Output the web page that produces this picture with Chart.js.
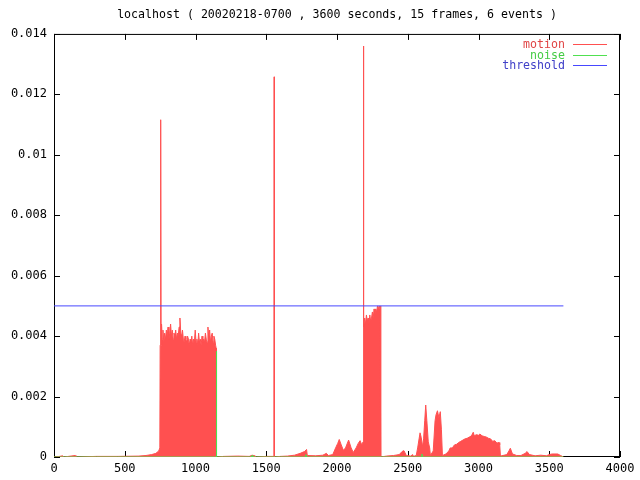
<!DOCTYPE html>
<html>
<head>
<meta charset="utf-8">
<script src="https://cdn.jsdelivr.net/npm/chart.js@4/dist/chart.umd.min.js"></script>
<style>
  body { margin: 0; background: #fff; }
  canvas { display: block; }
</style>
</head>
<body>
<canvas id="graficoMovimiento" width="640" height="480"></canvas>
<script>
// segundos y valores
const motionSec = [0, 40, 60, 70, 150, 155, 300, 450, 600, 650, 690, 720, 740, 748,
  750, 753, 755, 757, 760, 765, 770, 776, 782, 788, 794, 800, 806, 812, 818, 824, 830, 836, 842, 848,
  854, 860, 866, 872, 878, 884, 890, 896, 902, 908, 914, 920, 926, 932, 938, 944, 950, 956, 962, 968,
  974, 980, 986, 992, 998, 1004, 1010, 1016, 1022, 1028, 1034, 1040, 1046, 1052, 1058, 1064, 1070,
  1076, 1082, 1088, 1094, 1100, 1106, 1112, 1118, 1124, 1130, 1136, 1142, 1146, 1148,
  1200, 1300, 1380, 1400, 1420, 1430, 1500, 1550, 1554, 1556, 1558, 1600, 1650, 1700, 1740, 1770,
  1785, 1790, 1850, 1900, 1925, 1940, 1970, 1990, 2005, 2016, 2030, 2045, 2060, 2082, 2100, 2115,
  2135, 2150, 2163, 2175, 2184,
  2186, 2188, 2190, 2196, 2202, 2208, 2214, 2220, 2226, 2232, 2238, 2244, 2250, 2256, 2262, 2268,
  2274, 2280, 2286, 2292, 2298, 2304, 2308, 2310,
  2350, 2400, 2440, 2460, 2473, 2490, 2520, 2535, 2540, 2560, 2570, 2580, 2587, 2595, 2605, 2612,
  2620, 2627, 2635, 2645, 2655, 2660, 2680, 2693, 2700, 2710, 2720, 2730, 2738, 2745, 2770, 2790,
  2800, 2815, 2830, 2845, 2860, 2875, 2890, 2905, 2920, 2935, 2950, 2963, 2970, 2985, 3000, 3010,
  3025, 3040, 3055, 3070, 3085, 3100, 3115, 3130, 3145, 3150, 3155, 3200, 3215, 3225, 3240, 3270,
  3300, 3330, 3343, 3360, 3400, 3440, 3480, 3500, 3520, 3560, 3580, 3600];
const motionVal = [0, 0.00002, 0.00004, 0, 0.00005, 0, 0.00002, 0.00002, 0.00003, 0.00005, 0.00008, 0.00012, 0.0002, 0.0003,
  0.0037, 0.0045, 0.01116, 0.0037, 0.0044, 0.0039, 0.0042, 0.0038, 0.0041, 0.0039, 0.0042, 0.0040, 0.0043, 0.0039, 0.0041, 0.0044, 0.0040, 0.0042, 0.0039, 0.0041,
  0.0040, 0.0042, 0.0039, 0.0041, 0.0040, 0.0043, 0.0046, 0.0041, 0.0040, 0.0042, 0.0039, 0.0038, 0.0040, 0.0039, 0.0038, 0.0040, 0.0039, 0.0037, 0.0039, 0.0038,
  0.0040, 0.0037, 0.0039, 0.0038, 0.0042, 0.0038, 0.0039, 0.0037, 0.0041, 0.0038, 0.0039, 0.0037, 0.0040, 0.0038, 0.0039, 0.0038, 0.0041,
  0.0039, 0.0038, 0.0043, 0.0039, 0.0042, 0.0038, 0.0040, 0.0041, 0.0038, 0.0040, 0.0039, 0.0037, 0.0036, 0,
  0.00002, 0.00003, 0.00002, 0.00006, 0.00004, 0, 0.00002, 0.00002, 0, 0.01258, 0, 0.00002, 0.00003, 0.00006, 0.00012, 0.00018,
  0.00025, 0.00005, 0.00004, 0.00006, 0.00012, 0.00005, 0.00008, 0.0003, 0.00045, 0.00058, 0.0004, 0.00022, 0.0003, 0.00056, 0.0003, 0.00015,
  0.0003, 0.00045, 0.00054, 0.0004, 0.0005,
  0.0044, 0.0136, 0.0043, 0.0046, 0.0044, 0.0047, 0.0045, 0.0046, 0.0044, 0.0047, 0.0045, 0.0046, 0.0048, 0.0046, 0.0049, 0.0047,
  0.0049, 0.0048, 0.0050, 0.0049, 0.0050, 0.0049, 0.0050, 0,
  0.00003, 0.00005, 0.00008, 0.00018, 0.00021, 0.00005, 0.00003, 0.00008, 0.00002, 0.00005, 0.0003, 0.0006, 0.0008, 0.00065, 0.00034, 0.0006,
  0.0012, 0.00172, 0.0012, 0.0005, 0.0003, 0.00005, 0.0002, 0.0012, 0.0014, 0.00153, 0.0013, 0.0015, 0.0009, 0.00005, 0.0001, 0.0002,
  0.0003, 0.0003, 0.0004, 0.00042, 0.00048, 0.00052, 0.00056, 0.0006, 0.00062, 0.00066, 0.0007, 0.00082, 0.0007, 0.00074, 0.00072, 0.00076,
  0.0007, 0.00068, 0.00066, 0.00062, 0.0006, 0.00052, 0.00054, 0.00046, 0.00048, 0.0004, 0.00003, 0.00008, 0.0002, 0.00029, 0.0001, 0.00005,
  0.00005, 0.00012, 0.00018, 0.00008, 0.00004, 0.00006, 0.00004, 0.00008, 0.0001, 0.0001, 0.00005, 0];

const noiseSec = [0, 1146, 1147, 1149, 1150, 1395, 1400, 1405, 1775, 1780, 1785, 2595, 2600, 2605, 3600];
const noiseVal = [0, 0, 0.0035, 0.0035, 0, 0, 0.00005, 0, 0, 0.00008, 0, 0, 0.0001, 0, 0];

const thresholdSec = [0, 3600];
const thresholdVal = [0.005, 0.005];

const xTicks = [0, 500, 1000, 1500, 2000, 2500, 3000, 3500, 4000];
const yTicks = [0, 0.002, 0.004, 0.006, 0.008, 0.01, 0.012, 0.014];

const fuente = '"DejaVu Sans Mono", monospace';

function puntos(xs, ys) {
  return xs.map((x, i) => ({ x: x, y: ys[i] }));
}

// marco negro con ticks hacia adentro y leyenda a la derecha (estilo gnuplot)
const marcoPlugin = {
  id: 'marco',
  beforeDatasetsDraw(chart) {
    const { ctx, chartArea: a, scales } = chart;
    ctx.save();
    ctx.strokeStyle = '#000';
    ctx.lineWidth = 1;
    ctx.strokeRect(a.left + 0.5, a.top + 0.5, a.right - a.left - 1, a.bottom - a.top - 1);
    ctx.beginPath();
    xTicks.forEach(v => {
      const px = Math.round(scales.x.getPixelForValue(v)) + 0.5;
      ctx.moveTo(px, a.bottom); ctx.lineTo(px, a.bottom - 6);
      ctx.moveTo(px, a.top); ctx.lineTo(px, a.top + 6);
    });
    yTicks.forEach(v => {
      const py = Math.round(scales.y.getPixelForValue(v)) + 0.5;
      ctx.moveTo(a.left, py); ctx.lineTo(a.left + 6, py);
      ctx.moveTo(a.right, py); ctx.lineTo(a.right - 6, py);
    });
    ctx.stroke();

    ctx.font = '11.6px ' + fuente;
    ctx.textAlign = 'right';
    ctx.textBaseline = 'middle';
    chart.data.datasets.forEach((ds, i) => {
      const y = Math.round(a.top + 10 + i * 10.7) + 0.5;
      ctx.fillStyle = ds.legendColor;
      ctx.fillText(ds.label, a.right - 55, y);
      ctx.beginPath();
      ctx.strokeStyle = ds.borderColor;
      ctx.moveTo(a.right - 47, y);
      ctx.lineTo(a.right - 13, y);
      ctx.stroke();
    });
    ctx.restore();
  }
};

new Chart(document.getElementById('graficoMovimiento'), {
  type: 'line',
  data: {
    datasets: [
      {
        label: 'motion',
        data: puntos(motionSec, motionVal),
        borderColor: '#ff5050',
        backgroundColor: '#ff5050',
        legendColor: '#e04545',
        borderWidth: 1,
        fill: 'origin',
        order: 2
      },
      {
        label: 'noise',
        data: puntos(noiseSec, noiseVal),
        borderColor: '#50e050',
        backgroundColor: '#50e050',
        legendColor: '#45cc45',
        borderWidth: 1,
        fill: 'origin',
        order: 1
      },
      {
        label: 'threshold',
        data: puntos(thresholdSec, thresholdVal),
        borderColor: '#4848ff',
        legendColor: '#4040c8',
        borderWidth: 1,
        fill: false,
        order: 0
      }
    ]
  },
  options: {
    responsive: false,
    animation: false,
    elements: { point: { radius: 0 }, line: { tension: 0 } },
    layout: { padding: { left: 0, right: 20, top: 0, bottom: 0 } },
    plugins: {
      legend: { display: false },
      tooltip: { enabled: false },
      title: {
        display: true,
        fullSize: false,
        text: 'localhost ( 20020218-0700 , 3600 seconds, 15 frames, 6 events )',
        color: '#000',
        font: { family: fuente, size: 11.6, weight: 'normal' },
        padding: { top: 8, bottom: 12 }
      }
    },
    scales: {
      x: {
        type: 'linear',
        min: 0,
        max: 4000,
        grid: { display: false, drawTicks: false },
        border: { display: false },
        afterFit: s => { s.height = 23; },
        ticks: {
          stepSize: 500,
          padding: 5,
          maxRotation: 0,
          color: '#000',
          font: { family: fuente, size: 12 },
          callback: v => String(v)
        }
      },
      y: {
        min: 0,
        max: 0.014,
        grid: { display: false, drawTicks: false },
        border: { display: false },
        afterFit: s => { s.width = 54; },
        afterBuildTicks: s => { s.ticks = yTicks.map(v => ({ value: v })); },
        ticks: {
          padding: 7,
          color: '#000',
          font: { family: fuente, size: 12 },
          callback: v => String(+Number(v).toFixed(3))
        }
      }
    }
  },
  plugins: [marcoPlugin]
});
</script>
</body>
</html>
